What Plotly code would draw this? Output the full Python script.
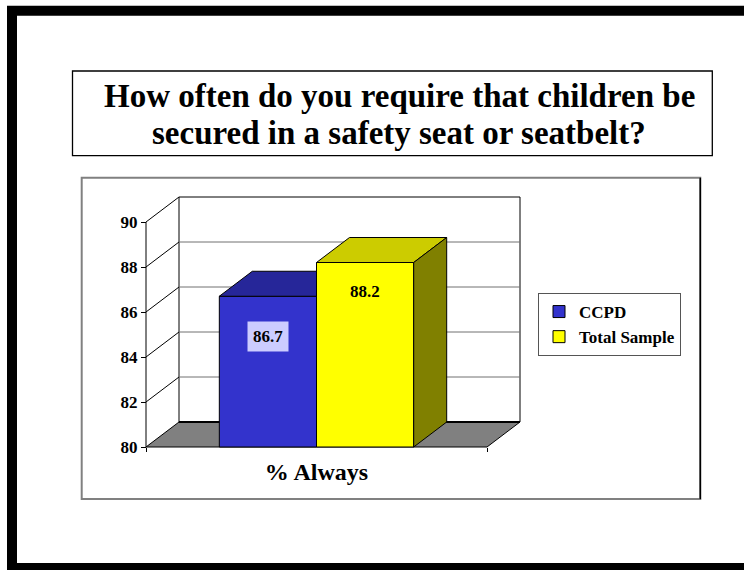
import plotly.graph_objects as go

# ---------------- data ----------------
CATEGORY = "% Always"
SERIES = ["CCPD", "Total Sample"]
VALUES = [86.7, 88.2]
Y_TICKS = [80, 82, 84, 86, 88, 90]
Y_TICK_LABELS = ["80", "82", "84", "86", "88", "90"]
TITLE_LINES = ["How often do you require that children be",
               "secured in a safety seat or seatbelt?"]

# ---------------- style ----------------
FRONT = ["#3333CC", "#FFFF00"]
TOP = ["#262699", "#CCCC00"]
SIDE = ["#1A1A66", "#808000"]
LABEL_BG = ["#CCCCFF", "rgba(0,0,0,0)"]
LABEL_SHIFT = [-40, -29]
FONT = "Liberation Serif, Times New Roman, serif"

W, H = 744, 570
Y_BASE, Y_MAX = 80, 90
PX_PER_CAT = 341.0
PX_PER_UNIT = 22.5
DEPTH_PX_X, DEPTH_PX_Y = 33.0, 25.0
PAD = 3.0
FRONT_LEFT_PX, FRONT_BOTTOM_PX = 146.0, 447.0
BARGAP = 0.43

DXU = DEPTH_PX_X / PX_PER_CAT
DYU = DEPTH_PX_Y / PX_PER_UNIT
x_lo = -0.5 - PAD / PX_PER_CAT
x_hi = 0.5 + DXU + PAD / PX_PER_CAT
y_lo = Y_BASE - PAD / PX_PER_UNIT
y_hi = Y_MAX + DYU + PAD / PX_PER_UNIT

plot_l = FRONT_LEFT_PX - PAD
plot_w = (x_hi - x_lo) * PX_PER_CAT
plot_b = FRONT_BOTTOM_PX + PAD
plot_h = (y_hi - y_lo) * PX_PER_UNIT


def xp(px):
    return (px - plot_l) / plot_w


def yp(py):
    return (plot_b - py) / plot_h


fig = go.Figure()

# ---------------- bars (front faces) ----------------
n = len(VALUES)
bw = (1 - BARGAP) / n
for i, (name, v) in enumerate(zip(SERIES, VALUES)):
    fig.add_trace(go.Bar(
        x=[0], y=[v - Y_BASE], base=[Y_BASE], name=name,
        marker=dict(color=FRONT[i], line=dict(color="black", width=1)),
        hoverinfo="skip",
    ))

# ---------------- 3D faces (top / side) ----------------
for i, v in enumerate(VALUES):
    xl = -(1 - BARGAP) / 2 + i * bw
    xr = xl + bw
    nxt = VALUES[i + 1] if i + 1 < n else None
    hidden_right = nxt is not None and nxt >= v + DYU
    if hidden_right:
        tx = [xl, xr, xr, xl + DXU, xl]
        ty = [v, v, v + DYU, v + DYU, v]
    else:
        tx = [xl, xr, xr + DXU, xl + DXU, xl]
        ty = [v, v, v + DYU, v + DYU, v]
    fig.add_trace(go.Scatter(x=tx, y=ty, mode="lines", fill="toself",
                             fillcolor=TOP[i], line=dict(color="black", width=1),
                             showlegend=False, hoverinfo="skip"))
    if not hidden_right:
        sx = [xr, xr + DXU, xr + DXU, xr, xr]
        sy = [Y_BASE, Y_BASE + DYU, v + DYU, v, Y_BASE]
        fig.add_trace(go.Scatter(x=sx, y=sy, mode="lines", fill="toself",
                                 fillcolor=SIDE[i], line=dict(color="black", width=1),
                                 showlegend=False, hoverinfo="skip"))

# ---------------- walls / floor ----------------
shapes = []
shapes.append(dict(type="rect", xref="x", yref="y", layer="below",
                   x0=-0.5 + DXU, x1=0.5 + DXU, y0=Y_BASE + DYU, y1=Y_MAX + DYU,
                   fillcolor="white", line=dict(color="black", width=1)))
for t in Y_TICKS[1:-1]:
    shapes.append(dict(type="line", xref="x", yref="y", layer="below",
                       x0=-0.5 + DXU, x1=0.5 + DXU, y0=t + DYU, y1=t + DYU,
                       line=dict(color="#707070", width=1)))
for t in Y_TICKS[1:]:
    shapes.append(dict(type="line", xref="x", yref="y", layer="below",
                       x0=-0.5, x1=-0.5 + DXU, y0=t, y1=t + DYU,
                       line=dict(color="black", width=1)))
shapes.append(dict(type="path", xref="x", yref="y", layer="below",
                   path=f"M{-0.5},{Y_BASE} L{0.5},{Y_BASE} L{0.5 + DXU},{Y_BASE + DYU} "
                        f"L{-0.5 + DXU},{Y_BASE + DYU} Z",
                   fillcolor="#808080", line=dict(color="black", width=1)))
shapes.append(dict(type="line", xref="x", yref="y", layer="below",
                   x0=-0.5 + DXU, x1=0.5 + DXU, y0=Y_BASE + DYU, y1=Y_BASE + DYU,
                   line=dict(color="black", width=2)))
shapes.append(dict(type="line", xref="x", yref="y", layer="below",
                   x0=-0.5, x1=-0.5, y0=Y_BASE, y1=Y_MAX,
                   line=dict(color="black", width=1)))

# ---------------- page frames ----------------
shapes.append(dict(type="rect", xref="paper", yref="paper", layer="below",
                   x0=xp(12), x1=xp(765), y0=yp(10.7), y1=yp(568),
                   line=dict(color="black", width=10)))
shapes.append(dict(type="rect", xref="paper", yref="paper", layer="below",
                   x0=xp(72.5), x1=xp(712.3), y0=yp(71), y1=yp(155.7),
                   line=dict(color="black", width=1.3)))
shapes.append(dict(type="rect", xref="paper", yref="paper", layer="below",
                   x0=xp(81.7), x1=xp(700.3), y0=yp(177.7), y1=yp(499),
                   line=dict(color="#808080", width=2)))
shapes.append(dict(type="line", xref="paper", yref="paper", layer="below",
                   x0=xp(700.3), x1=xp(700.3), y0=yp(177.7), y1=yp(499),
                   line=dict(color="black", width=1.5)))

# ---------------- annotations ----------------
annotations = []
title_y_px = [96, 133]
for line, ypx in zip(TITLE_LINES, title_y_px):
    annotations.append(dict(text=line, xref="paper", yref="paper", x=xp(399), y=yp(ypx),
                            xanchor="center", yanchor="middle", showarrow=False,
                            font=dict(family=FONT, size=33, color="black", weight="bold")))
for i, v in enumerate(VALUES):
    xl = -(1 - BARGAP) / 2 + i * bw
    annotations.append(dict(text=f"{v:.1f}", x=xl + bw / 2, y=v, xref="x", yref="y",
                            yshift=LABEL_SHIFT[i], showarrow=False,
                            xanchor="center", yanchor="middle",
                            bgcolor=LABEL_BG[i], borderpad=5,
                            font=dict(family=FONT, size=17, color="black", weight="bold")))

fig.update_layout(
    width=W, height=H, autosize=False,
    margin=dict(l=plot_l, r=W - plot_l - plot_w, t=plot_b - plot_h, b=H - plot_b, pad=0),
    paper_bgcolor="white", plot_bgcolor="rgba(0,0,0,0)",
    barmode="group", bargap=BARGAP, bargroupgap=0,
    shapes=shapes, annotations=annotations,
    showlegend=True,
    legend=dict(x=xp(538), y=yp(293), xanchor="left", yanchor="top",
                bgcolor="white", bordercolor="#555555", borderwidth=1,
                font=dict(family=FONT, size=17, color="black", weight="bold"),
                tracegroupgap=0),
    xaxis=dict(range=[x_lo, x_hi], anchor="free", position=yp(FRONT_BOTTOM_PX),
               tickmode="array", tickvals=[0], ticktext=[CATEGORY], ticks="",
               ticklabelstandoff=8,
               minor=dict(tickmode="array", tickvals=[-0.5, 0.5], ticks="outside",
                          ticklen=4, tickcolor="black", showgrid=False),
               showgrid=False, zeroline=False, showline=False, fixedrange=True,
               tickfont=dict(family=FONT, size=24, color="black", weight="bold")),
    yaxis=dict(range=[y_lo, y_hi], anchor="free", position=xp(FRONT_LEFT_PX),
               tickmode="array", tickvals=Y_TICKS, ticktext=Y_TICK_LABELS,
               ticks="outside", ticklen=5, tickcolor="black",
               showgrid=False, zeroline=False, showline=False, fixedrange=True,
               tickfont=dict(family=FONT, size=17, color="black", weight="bold")),
)

fig.write_html("out.html")
